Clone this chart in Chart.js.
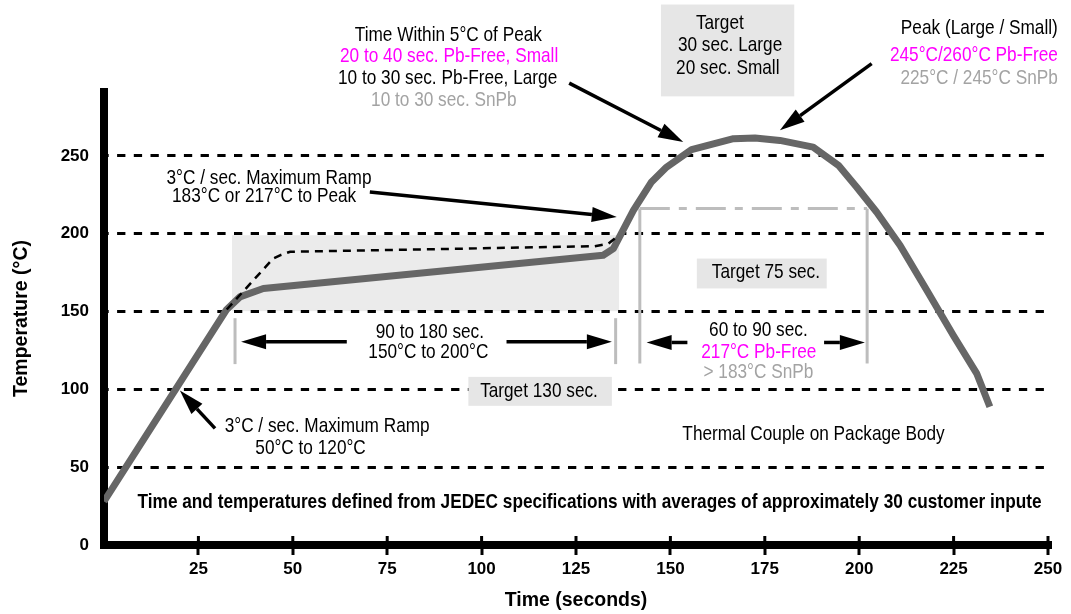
<!DOCTYPE html>
<html>
<head>
<meta charset="utf-8">
<script src="https://cdn.jsdelivr.net/npm/chart.js@4.4.1/dist/chart.umd.min.js"></script>
<style>
  html, body { margin: 0; padding: 0; background: #fff; }
</style>
</head>
<body>
<canvas id="c" width="1071" height="614"></canvas>
<script>
// Profile (thermal couple on package body)
const profileTime = [0, 32.5, 36, 42.2, 132.2, 134.9, 140.2, 145, 149, 155.6, 166.7, 172.4, 179, 187.8, 194.5, 199.3, 204.6, 210.8, 217.9, 224.9, 231.1, 234.6];
const profileTemp = [28, 151.3, 159.4, 164.8, 186.1, 190.4, 215, 233.2, 242.8, 254, 261, 261.5, 259.9, 255.6, 243.9, 230, 213.9, 192.6, 163.7, 134.8, 110.3, 88.8];

// dashed alternative soak
const soakTime = [32.5, 44.8, 46.6, 49.3, 129.9, 133.6, 135.8];
const soakTemp = [151.3, 184, 186.1, 188.4, 191.9, 193.6, 197.9];

const timeMin = 0, timeMax = 250, timeStep = 25;
const tempMin = 0, tempMax = 291, tempStep = 50;

const MAGENTA = '#ff00ff';
const LIGHT = '#a3a3a3';

// no narrow face installed: squeeze regular one
const FAM = '"Liberation Sans", Arial, sans-serif';
const SQ = 0.82;

// annotation layout, in chart units
const shade = {x0: 33.9, x1: 136.4, y0: 150.2, y1: 199};
const boxes = [
  {x0: 147.5, x1: 182.8, y0: 288.2, y1: 347.2},
  {x0: 96.5, x1: 134.5, y0: 89.4, y1: 108},
  {x0: 157, x1: 191.4, y0: 164.8, y1: 184}
];
const notes = [
  {x: 91.2, y: 328.4, t: 'Time Within 5°C of Peak'},
  {x: 91.4, y: 314.5, t: '20 to 40 sec. Pb-Free, Small', c: MAGENTA},
  {x: 91.0, y: 300.2, t: '10 to 30 sec. Pb-Free, Large'},
  {x: 90.0, y: 286.1, t: '10 to 30 sec. SnPb', c: LIGHT},
  {x: 163.1, y: 335.9, t: 'Target'},
  {x: 165.8, y: 322.0, t: '30 sec. Large'},
  {x: 165.2, y: 307.0, t: '20 sec. Small'},
  {x: 252.6, y: 332.7, t: 'Peak (Large / Small)', a: 'right'},
  {x: 252.6, y: 315.6, t: '245°C/260°C Pb-Free', a: 'right', c: MAGENTA},
  {x: 252.6, y: 300.6, t: '225°C / 245°C SnPb', a: 'right', c: LIGHT},
  {x: 43.7, y: 236.4, t: '3°C / sec. Maximum Ramp'},
  {x: 42.4, y: 224.6, t: '183°C or 217°C to Peak'},
  {x: 86.3, y: 137.5, t: '90 to 180 sec.'},
  {x: 85.9, y: 124.7, t: '150°C to 200°C'},
  {x: 115.2, y: 99.5, t: 'Target 130 sec.'},
  {x: 175.3, y: 176.1, t: 'Target 75 sec.'},
  {x: 173.3, y: 138.4, t: '60 to 90 sec.'},
  {x: 173.4, y: 124.7, t: '217°C Pb-Free', c: MAGENTA},
  {x: 173.3, y: 111.9, t: '> 183°C SnPb', c: LIGHT},
  {x: 59.1, y: 77.0, t: '3°C / sec. Maximum Ramp'},
  {x: 54.7, y: 63.1, t: '50°C to 120°C'},
  {x: 187.9, y: 71.7, t: 'Thermal Couple on Package Body'},
  {x: 128.6, y: 28.4, t: 'Time and temperatures defined from JEDEC specifications with averages of approximately 30 customer inpute', b: true}
];
const arrows = [
  [64.3, 130.5, 36.3, 130.5],
  [106.6, 130.5, 134.5, 130.5],
  [154.5, 130.1, 143.7, 130.1],
  [190.7, 130.1, 201.5, 130.1],
  [123.2, 296.7, 153.4, 258.9],
  [203.3, 309.2, 179.0, 266.4],
  [70.4, 226.8, 135.8, 210.7],
  [29.4, 74.9, 20.1, 99.2]
];

const overlay = {
  id: 'overlay',
  beforeDraw(chart) {
    const {ctx, scales: {x, y}} = chart;
    ctx.save();
    ctx.fillStyle = '#ebebeb';
    const l = x.getPixelForValue(shade.x0), r = x.getPixelForValue(shade.x1);
    const t = y.getPixelForValue(shade.y1), b = y.getPixelForValue(shade.y0);
    ctx.fillRect(l, t, r - l, b - t);
    ctx.restore();
  },
  beforeDatasetsDraw(chart) {
    const {ctx, scales: {x, y}} = chart;
    ctx.save();
    ctx.fillStyle = '#e6e6e6';
    boxes.forEach(bx => {
      const l = x.getPixelForValue(bx.x0), r = x.getPixelForValue(bx.x1);
      const t = y.getPixelForValue(bx.y1), b = y.getPixelForValue(bx.y0);
      ctx.fillRect(l, t, r - l, b - t);
    });
    // brackets
    ctx.strokeStyle = '#bdbdbd';
    ctx.lineWidth = 3;
    [[34.7, 116.2, 145.7], [135.5, 116.2, 145.7], [141.9, 116.6, 216.1], [202.1, 116.6, 216.1]].forEach(v => {
      ctx.beginPath();
      ctx.moveTo(x.getPixelForValue(v[0]), y.getPixelForValue(v[1]));
      ctx.lineTo(x.getPixelForValue(v[0]), y.getPixelForValue(v[2]));
      ctx.stroke();
    });
    ctx.setLineDash([30, 9, 8, 9]);
    ctx.beginPath();
    ctx.moveTo(x.getPixelForValue(141.9), y.getPixelForValue(216.1));
    ctx.lineTo(x.getPixelForValue(202.1), y.getPixelForValue(216.1));
    ctx.stroke();
    ctx.restore();
  },
  afterDraw(chart) {
    const {ctx, scales: {x, y}} = chart;
    ctx.save();
    // tick marks also above the axis line
    ctx.strokeStyle = '#000';
    ctx.lineWidth = 3;
    x.ticks.forEach(tk => {
      if (tk.value === 0) return;
      const p = x.getPixelForValue(tk.value);
      ctx.beginPath();
      ctx.moveTo(p, chart.chartArea.bottom - 9);
      ctx.lineTo(p, chart.chartArea.bottom);
      ctx.stroke();
    });
    // arrows
    ctx.fillStyle = '#000';
    ctx.lineWidth = 3.5;
    arrows.forEach(a => {
      const x0 = x.getPixelForValue(a[0]), y0 = y.getPixelForValue(a[1]);
      const x1 = x.getPixelForValue(a[2]), y1 = y.getPixelForValue(a[3]);
      const ang = Math.atan2(y1 - y0, x1 - x0);
      const len = 25, hw = 7.5;
      const bx = x1 - len * Math.cos(ang), by = y1 - len * Math.sin(ang);
      ctx.beginPath();
      ctx.moveTo(x0, y0);
      ctx.lineTo(bx, by);
      ctx.stroke();
      ctx.beginPath();
      ctx.moveTo(x1, y1);
      ctx.lineTo(bx + hw * Math.sin(ang), by - hw * Math.cos(ang));
      ctx.lineTo(bx - hw * Math.sin(ang), by + hw * Math.cos(ang));
      ctx.closePath();
      ctx.fill();
    });
    // texts
    ctx.textBaseline = 'middle';
    notes.forEach(n => {
      ctx.save();
      ctx.translate(x.getPixelForValue(n.x), y.getPixelForValue(n.y) + 1);
      ctx.scale(SQ, 1);
      ctx.font = (n.b ? 'bold 21' : '21') + 'px ' + FAM;
      ctx.fillStyle = n.c || '#000';
      ctx.textAlign = n.a || 'center';
      ctx.fillText(n.t, 0, 0);
      ctx.restore();
    });
    ctx.restore();
  }
};

const tickFont = {family: FAM, size: 17, weight: 'bold'};

new Chart(document.getElementById('c'), {
  type: 'line',
  data: {
    datasets: [
      {
        data: soakTime.map((t, i) => ({x: t, y: soakTemp[i]})),
        borderColor: '#000',
        borderWidth: 2.5,
        borderDash: [8, 6],
        pointRadius: 0,
        tension: 0
      },
      {
        data: profileTime.map((t, i) => ({x: t, y: profileTemp[i]})),
        borderColor: '#666666',
        borderWidth: 7,
        pointRadius: 0,
        tension: 0,
        borderJoinStyle: 'round'
      }
    ]
  },
  options: {
    responsive: false,
    animation: false,
    layout: {padding: {top: 92, right: 23, left: 0, bottom: 0}},
    plugins: {legend: {display: false}, tooltip: {enabled: false}},
    scales: {
      x: {
        type: 'linear',
        min: timeMin, max: timeMax,
        afterFit: s => { s.height = 69; },
        ticks: {
          stepSize: timeStep,
          color: '#000',
          font: tickFont,
          padding: 4,
          maxRotation: 0,
          callback: v => v === 0 ? '' : v
        },
        grid: {
          drawOnChartArea: false,
          drawTicks: true,
          tickLength: 10,
          tickWidth: 3,
          lineWidth: 8,
          tickColor: c => (c.tick && c.tick.value === 0) ? 'rgba(0,0,0,0)' : '#000'
        },
        border: {display: true, width: 8, color: '#000'},
        title: {
          display: true,
          text: 'Time (seconds)',
          color: '#000',
          font: {family: FAM, size: 19.5, weight: 'bold'},
          padding: {top: 0, bottom: 2}
        }
      },
      y: {
        min: tempMin, max: tempMax,
        afterFit: s => { s.width = 104; },
        ticks: {
          stepSize: tempStep,
          includeBounds: false,
          color: '#000',
          font: tickFont,
          padding: 15
        },
        grid: {
          color: '#000',
          lineWidth: 3,
          drawTicks: false
        },
        border: {display: true, width: 8, color: '#000', dash: [8.3, 8.4], dashOffset: 7.6},
        title: {
          display: true,
          text: 'Temperature (°C)',
          color: '#000',
          font: {family: FAM, size: 19.5, weight: 'bold'},
          padding: {top: 10, bottom: 0}
        }
      }
    }
  },
  plugins: [overlay]
});
</script>
</body>
</html>
